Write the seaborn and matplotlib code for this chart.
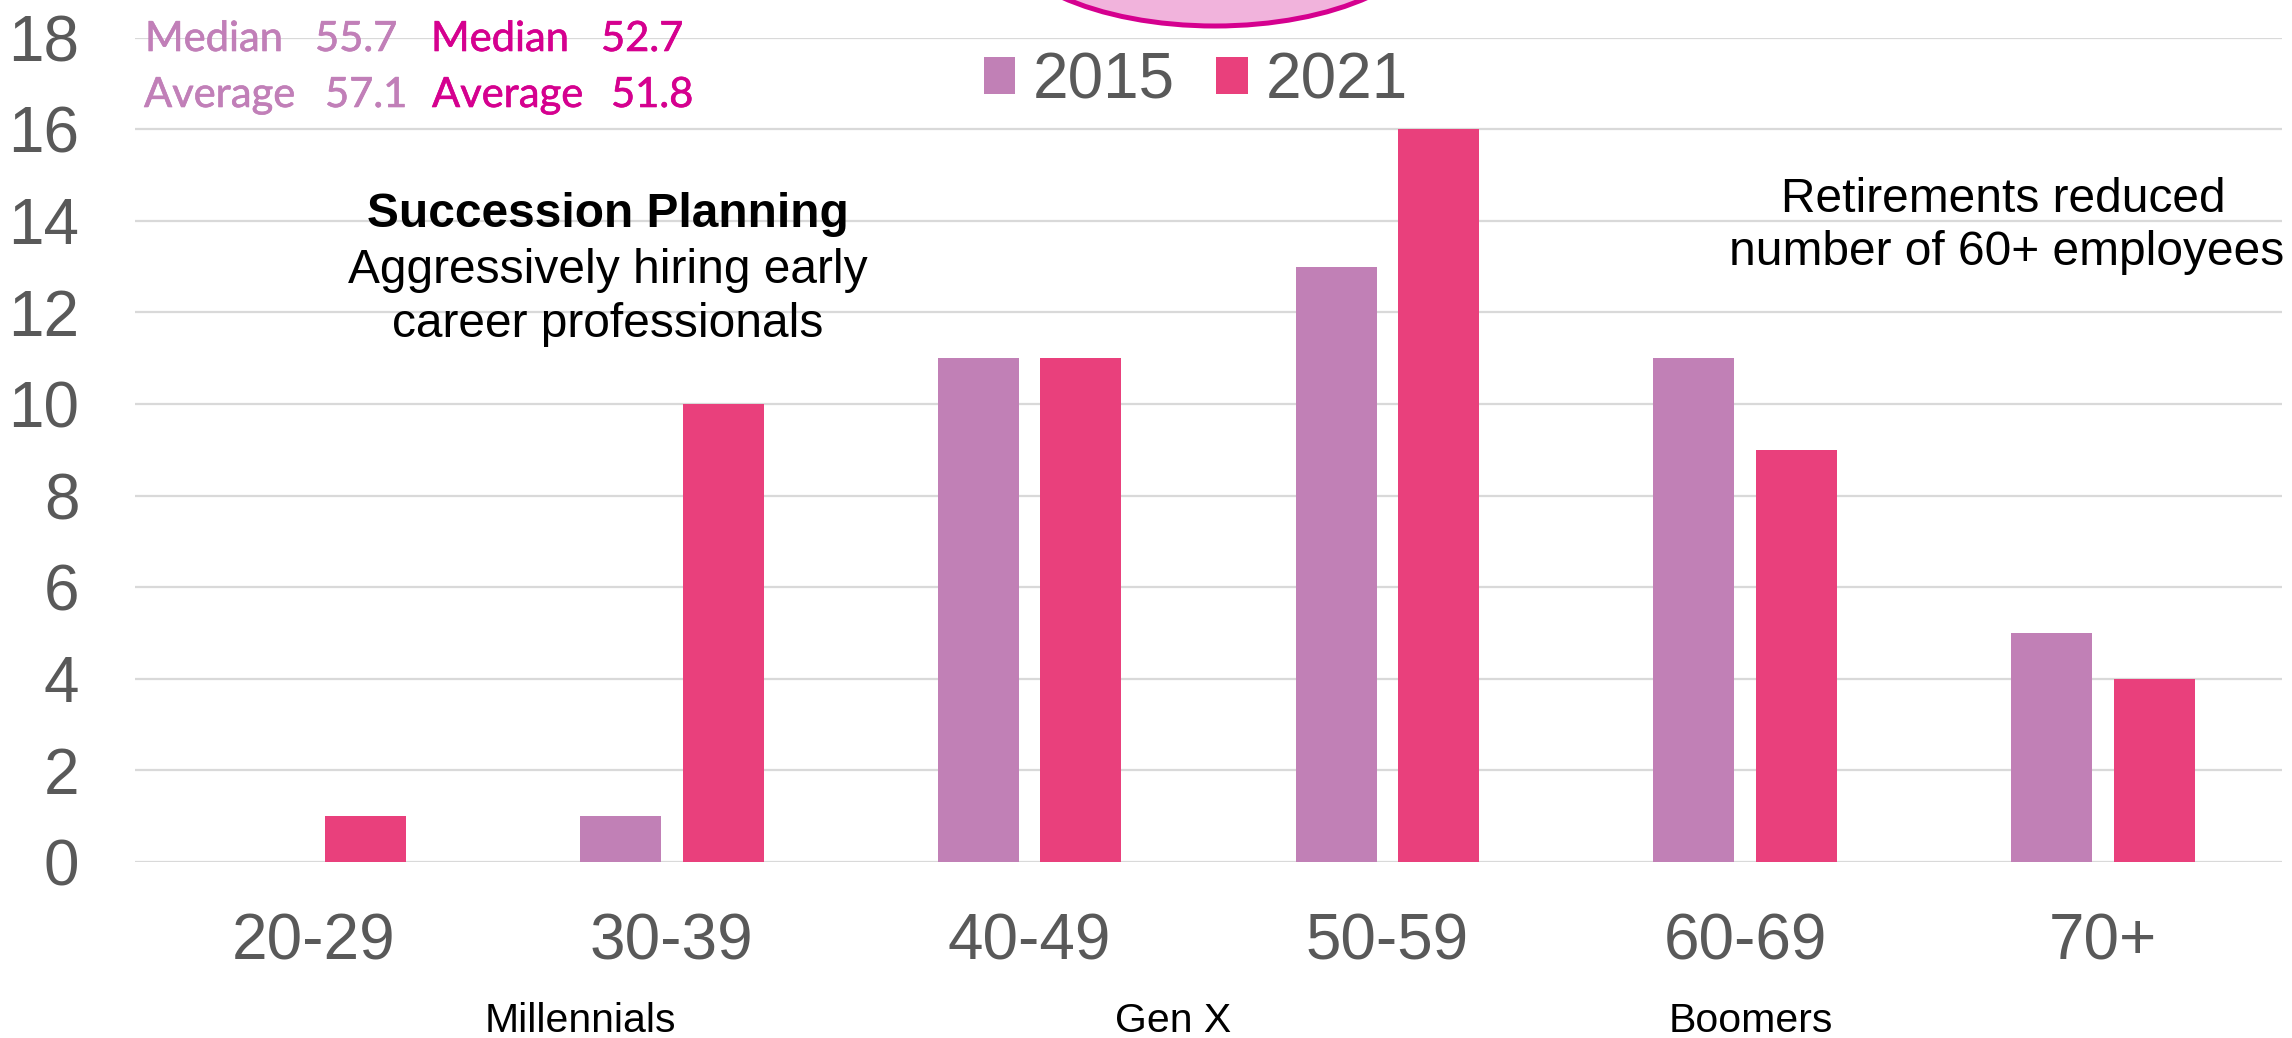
import matplotlib
matplotlib.use("Agg")
import matplotlib.pyplot as plt
import matplotlib.transforms as mtransforms
import matplotlib.patheffects as pe
import pandas as pd
import seaborn as sns
from matplotlib.patches import Ellipse

# ---- data -------------------------------------------------------------
age_groups = ["20-29", "30-39", "40-49", "50-59", "60-69", "70+"]
counts_2015 = [0, 1, 11, 13, 11, 5]
counts_2021 = [1, 10, 11, 16, 9, 4]
years = ["2015", "2021"]
year_colors = ["#C180B6", "#E9407C"]
generations = ["Millennials", "Gen X", "Boomers"]
median_age = [55.7, 52.7]
average_age = [57.1, 51.8]
y_ticks = list(range(0, 19, 2))

df = pd.DataFrame({
    "age": age_groups * 2,
    "year": [years[0]] * len(age_groups) + [years[1]] * len(age_groups),
    "count": counts_2015 + counts_2021,
})

# ---- figure -----------------------------------------------------------
W, H, DPI = 2292, 1038, 100
sns.set_style("white")
plt.rcParams["font.family"] = ["Liberation Sans", "DejaVu Sans"]

fig = plt.figure(figsize=(W / DPI, H / DPI), dpi=DPI)


def fx(px):
    return px / W


def fy(py):
    return 1 - py / H


ax = fig.add_axes([fx(135), fy(862), fx(2282) - fx(135), fy(37.5) - fy(862)])

sns.barplot(data=df, x="age", y="count", hue="year", order=age_groups,
            hue_order=years, palette=year_colors, width=0.573, gap=0.21,
            linewidth=0, saturation=1, ax=ax)

ax.set_ylim(0, 18)
ax.set_yticks(y_ticks)
ax.set_xlabel("")
ax.set_ylabel("")
for s in ax.spines.values():
    s.set_visible(False)
ax.set_axisbelow(True)
ax.yaxis.grid(True, color="#D9D9D9", linewidth=1.6)
ax.xaxis.grid(False)
ax.tick_params(axis="both", length=0, labelsize=46, colors="#595959")
ax.tick_params(axis="y", pad=40)
ax.tick_params(axis="x", pad=36)

leg = ax.legend(loc="center", bbox_to_anchor=(0.494, 0.947), ncol=2,
                frameon=False, fontsize=46, handlelength=0.5,
                handleheight=0.5, handletextpad=0.27, columnspacing=0.65,
                borderpad=0, borderaxespad=0)
for t in leg.get_texts():
    t.set_color("#595959")

# generation labels under the age groups
gen_tr = mtransforms.blended_transform_factory(ax.transData, fig.transFigure)
for name, xd in zip(generations, [0.746, 2.401, 4.016]):
    ax.text(xd, fy(1032), name, transform=gen_tr, ha="center",
            va="baseline", fontsize=29.5, color="black")

# median / average summary
stat_font = ["Lato", "DejaVu Sans"]
stat_colors = ["#C17FB8", "#D5008F"]


def stat_text(px, py, s, color):
    fig.text(fx(px), fy(py), s, family=stat_font, fontsize=30, color=color,
             va="baseline", ha="left",
             path_effects=[pe.withStroke(linewidth=0.45, foreground=color)])


for i, (xw, xn) in enumerate([(145, 315), (431, 601)]):
    stat_text(xw, 51, "Median", stat_colors[i])
    stat_text(xn, 51, f"{median_age[i]:.1f}", stat_colors[i])
for i, (xw, xn) in enumerate([(144, 325), (432, 611)]):
    stat_text(xw, 107, "Average", stat_colors[i])
    stat_text(xn, 107, f"{average_age[i]:.1f}", stat_colors[i])

# annotations
note = dict(fontsize=34.5, ha="center", va="baseline", color="black")
fig.text(fx(608), fy(227), "Succession Planning", fontweight="bold", **note)
fig.text(fx(608), fy(283), "Aggressively hiring early", **note)
fig.text(fx(608), fy(337), "career professionals", **note)
fig.text(fx(2003), fy(212), "Retirements reduced", **note)
fig.text(fx(2007), fy(265), "number of 60+ employees", **note)

# callout bubble at the top edge
fig.add_artist(Ellipse((fx(1215), fy(-74)), width=436 / W, height=200 / H,
                       transform=fig.transFigure, facecolor="#F1B3DC",
                       edgecolor="#D5008F", linewidth=3.6))

fig.savefig("out.png", dpi=DPI)
